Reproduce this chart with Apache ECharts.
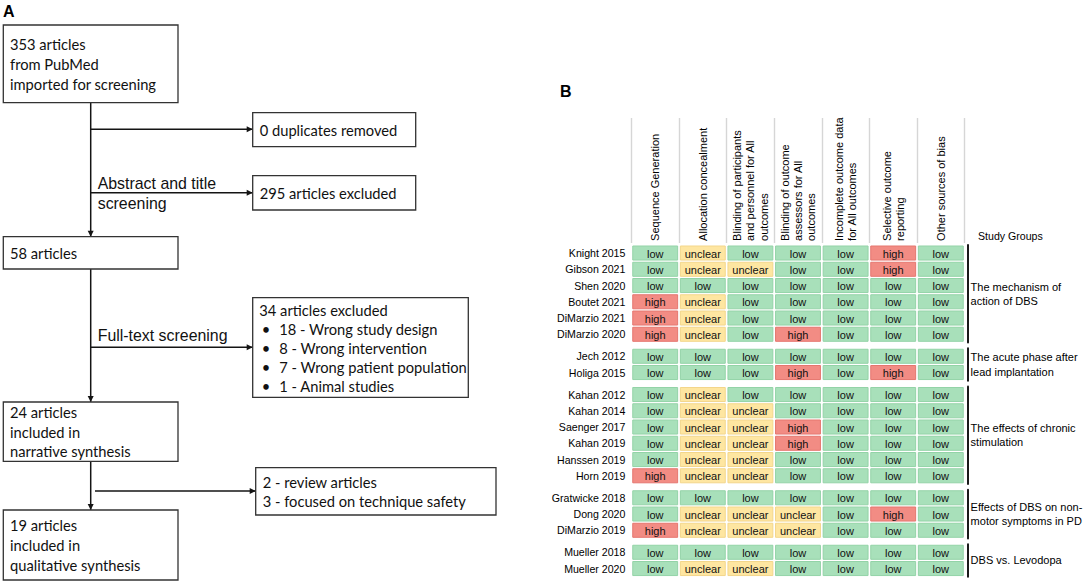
<!DOCTYPE html>
<html><head><meta charset="utf-8">
<script src="https://cdn.jsdelivr.net/npm/echarts@6/dist/echarts.min.js"></script>
<style>html,body{margin:0;padding:0;background:#fff}#c{width:1084px;height:584px}</style>
</head><body><div id="c"></div>
<script>
// ---------- Panel A: flow diagram content ----------
const flowMain = ['353 articles\nfrom PubMed\nimported for screening', '58 articles', '24 articles\nincluded in\nnarrative synthesis', '19 articles\nincluded in\nqualitative synthesis'];
const flowSide = ['0 duplicates removed', '295 articles excluded', '34 articles excluded', '2 - review articles\n3 - focused on technique safety'];
const exclusionReasons = ['18 - Wrong study design', '8 - Wrong intervention', '7 - Wrong patient population', '1 - Animal studies'];
const stageLabels = ['Abstract and title\nscreening', 'Full-text screening'];

// ---------- Panel B: risk of bias ----------
const domains = ['Sequence Generation', 'Allocation concealment', 'Blinding of participants\nand personnel for All\noutcomes', 'Blinding of outcome\nassessors for All\noutcomes', 'Incomplete outcome data\nfor All outcomes', 'Selective outcome\nreporting', 'Other sources of bias'];
const levels = ['low', 'unclear', 'high'];
const groupNames = ['The mechanism of\naction of DBS', 'The acute phase after\nlead implantation', 'The effects of chronic\nstimulation', 'Effects of DBS on non-\nmotor symptoms in PD', 'DBS vs. Levodopa'];
const groupStudies = [
  ['Knight 2015', 'Gibson 2021', 'Shen 2020', 'Boutet 2021', 'DiMarzio 2021', 'DiMarzio 2020'],
  ['Jech 2012', 'Holiga 2015'],
  ['Kahan 2012', 'Kahan 2014', 'Saenger 2017', 'Kahan 2019', 'Hanssen 2019', 'Horn 2019'],
  ['Gratwicke 2018', 'Dong 2020', 'DiMarzio 2019'],
  ['Mueller 2018', 'Mueller 2020']
];
const groupRatings = [
  [['low','unclear','low','low','low','high','low'],
   ['low','unclear','unclear','low','low','high','low'],
   ['low','low','low','low','low','low','low'],
   ['high','unclear','low','low','low','low','low'],
   ['high','unclear','low','low','low','low','low'],
   ['high','unclear','low','high','low','low','low']],
  [['low','low','low','low','low','low','low'],
   ['low','low','low','high','low','high','low']],
  [['low','unclear','low','low','low','low','low'],
   ['low','unclear','unclear','low','low','low','low'],
   ['low','unclear','unclear','high','low','low','low'],
   ['low','unclear','unclear','high','low','low','low'],
   ['low','unclear','unclear','low','low','low','low'],
   ['high','unclear','unclear','low','low','low','low']],
  [['low','low','low','low','low','low','low'],
   ['low','unclear','unclear','unclear','low','high','low'],
   ['high','unclear','unclear','unclear','low','low','low']],
  [['low','low','low','low','low','low','low'],
   ['low','unclear','unclear','low','low','low','low']]
];

// ---------- styles / layout ----------
const ARIAL = '"Liberation Sans", Arial, sans-serif';
const CALI = 'Lato, "Open Sans", sans-serif';
const FILL = ['#a8e0ba', '#fee6a1', '#f28c84'];
const EDGE = ['#93d3a7', '#f3d68b', '#e5766f'];
const GL = 631.4, GW = 333.2, ROWH = 16.25, GGAP = 5.75, TOP0 = 244.9;

const chart = echarts.init(document.getElementById('c'), null, {renderer: 'svg'});

const grids = [], xAxes = [], yAxes = [], series = [], rightAxes = [];
let curTop = TOP0;
groupStudies.forEach((studies, gi) => {
  const h = studies.length * ROWH;
  grids.push({left: GL, top: curTop, width: GW, height: h, outerBoundsMode: 'none', containLabel: false});
  curTop += h + GGAP;
  xAxes.push(gi === 0 ? {
    gridIndex: gi, type: 'category', data: domains, position: 'top',
    axisLine: {show: false}, axisTick: {show: false}, splitLine: {show: false},
    axisLabel: {show: true, interval: 0, rotate: -90, margin: 4, fontSize: 11, lineHeight: 13.3, color: '#000', fontFamily: ARIAL}
  } : {
    gridIndex: gi, type: 'category', data: domains, show: false
  });
  yAxes.push({
    gridIndex: gi, type: 'category', data: studies, inverse: true,
    axisLine: {show: false}, axisTick: {show: false}, splitLine: {show: false},
    axisLabel: {interval: 0, margin: 6, fontSize: 10.6, color: '#000', fontFamily: ARIAL}
  });
  rightAxes.push({
    gridIndex: gi, type: 'category', data: [groupNames[gi]], position: 'right', offset: 3,
    axisLine: {show: true, lineStyle: {color: '#1a1a1a', width: 2}}, axisTick: {show: false}, splitLine: {show: false},
    axisLabel: {interval: 0, margin: 3, fontSize: 11, lineHeight: 14.3, color: '#000', fontFamily: ARIAL, align: 'left'}
  });
  const data = [];
  groupRatings[gi].forEach((row, ri) => row.forEach((v, ci) => data.push([ci, ri, levels.indexOf(v)])));
  series.push({
    type: 'custom', coordinateSystem: 'cartesian2d', xAxisIndex: gi, yAxisIndex: gi, data: data, silent: true,
    renderItem: function (params, api) {
      const c = api.coord([api.value(0), api.value(1)]);
      const s = api.size([1, 1]);
      const lv = api.value(2);
      const w = s[0] - 2.7, hh = s[1] - 2.2;
      return {type: 'group', children: [
        {type: 'rect', shape: {x: c[0] - w / 2, y: c[1] - hh / 2, width: w, height: hh},
         style: {fill: FILL[lv], stroke: EDGE[lv], lineWidth: 1}},
        {type: 'text', style: {text: levels[lv], x: c[0], y: c[1] + 0.5, align: 'center', verticalAlign: 'middle',
          textAlign: 'center', textVerticalAlign: 'middle', font: '11px ' + ARIAL, fill: '#111'}}
      ]};
    }
  });
});
// header grid with column separators
const HG = grids.length;
grids.push({left: GL, top: 118, width: GW, height: 125, outerBoundsMode: 'none', containLabel: false});
xAxes.push({gridIndex: HG, type: 'category', data: domains, axisLine: {show: false}, axisTick: {show: false},
  axisLabel: {show: false}, splitLine: {show: true, interval: 0, lineStyle: {color: '#d6d6d6', width: 1.4}}});
const allY = yAxes.concat(rightAxes);
allY.push({gridIndex: HG, type: 'value', show: false, splitLine: {show: false}});

// ---------- Panel A graphics ----------
const G = [];
const SPX = 90.7;
const mainBoxes = [[25, 77.7], [236.7, 32.3], [402, 59.3], [510, 70]];
const MX = 3.3, MW = 174.7;
const sideBoxes = [[252.7, 112.7, 163, 34], [252.7, 175.7, 163, 34.3], [252.7, 297.7, 215.6, 99.6], [255.7, 467.7, 240.3, 47.3]];
const LINE = '#141414';
const BOXFONT = '14.7px ' + CALI;
const LABFONT = '15.9px ' + ARIAL;

function rect(x, y, w, h) {
  G.push({type: 'rect', shape: {x: x, y: y, width: w, height: h}, style: {fill: '#fff', stroke: '#333', lineWidth: 1.3}, z: 2});
}
function textLines(str, x, cy, lh, font) {
  const ls = str.split('\n');
  ls.forEach((t, i) => {
    G.push({type: 'text', z: 3, style: {text: t, x: x, y: cy + (i - (ls.length - 1) / 2) * lh, font: font, fill: '#111',
      align: 'left', verticalAlign: 'middle', textAlign: 'left', textVerticalAlign: 'middle'}});
  });
}
function seg(x1, y1, x2, y2) {
  G.push({type: 'line', shape: {x1: x1, y1: y1, x2: x2, y2: y2}, style: {stroke: LINE, lineWidth: 1.5}, z: 1});
}
function arrowDown(x, y) {
  G.push({type: 'polygon', shape: {points: [[x - 3, y - 6], [x + 3, y - 6], [x, y]]}, style: {fill: LINE}, z: 1});
}
function arrowRight(x, y) {
  G.push({type: 'polygon', shape: {points: [[x - 6, y - 3], [x - 6, y + 3], [x, y]]}, style: {fill: LINE}, z: 1});
}

mainBoxes.forEach((b, i) => {
  rect(MX, b[0], MW, b[1]);
  textLines(flowMain[i], 10, b[0] + b[1] / 2, 19.7, BOXFONT);
});
seg(SPX, 102.7, SPX, 236.7); arrowDown(SPX, 236.7);
seg(SPX, 269, SPX, 402); arrowDown(SPX, 402);
seg(SPX, 461.3, SPX, 510); arrowDown(SPX, 510);
const branchY = [129.3, 192.7, 347.3, 491];
branchY.forEach((y, i) => {
  const sb = sideBoxes[i];
  const x0 = i === 3 ? 95 : SPX;
  seg(x0, y, sb[0], y); arrowRight(sb[0], y);
});
sideBoxes.forEach((b, i) => {
  rect(b[0], b[1], b[2], b[3]);
  if (i === 2) {
    const all = [flowSide[2]].concat(exclusionReasons);
    const cy = b[1] + b[3] / 2, lh = 19;
    all.forEach((t, k) => {
      const y = cy + (k - (all.length - 1) / 2) * lh;
      if (k === 0) textLines(t, b[0] + 6.6, y, lh, BOXFONT);
      else {
        textLines('\u2022', b[0] + 9, y, lh, BOXFONT);
        textLines(t, b[0] + 26.6, y, lh, BOXFONT);
      }
    });
  } else {
    textLines(flowSide[i], b[0] + 7, b[1] + b[3] / 2, 19.7, BOXFONT);
  }
});
textLines(stageLabels[0], 97.7, 193.5, 19.6, LABFONT);
textLines(stageLabels[1], 97.7, 335.7, 19.6, LABFONT);

const option = {
  backgroundColor: '#fff',
  animation: false,
  title: [
    {text: 'A', left: 3, top: 3, padding: 0, textStyle: {fontFamily: ARIAL, fontWeight: 'bold', fontSize: 16, color: '#000'}},
    {text: 'B', left: 560, top: 83, padding: 0, textStyle: {fontFamily: ARIAL, fontWeight: 'bold', fontSize: 16, color: '#000'}},
    {text: 'Study Groups', left: 978, top: 230, padding: 0, textStyle: {fontFamily: ARIAL, fontWeight: 'normal', fontSize: 10.6, color: '#000'}}
  ],
  grid: grids,
  xAxis: xAxes,
  yAxis: allY,
  series: series,
  graphic: G
};
chart.setOption(option);
</script>
</body></html>
